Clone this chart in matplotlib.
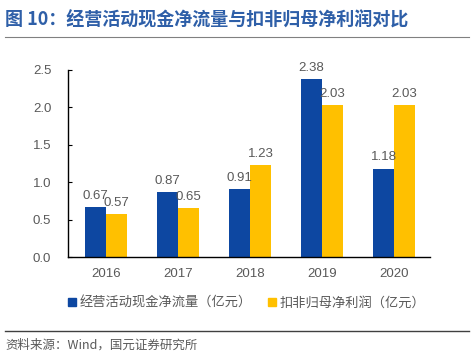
import matplotlib
matplotlib.use("Agg")
import matplotlib.pyplot as plt
import numpy as np
from matplotlib.lines import Line2D

plt.rcParams['font.family'] = ['Liberation Sans', 'Noto Sans CJK SC', 'DejaVu Sans']

years = ["2016", "2017", "2018", "2019", "2020"]
cash_flow = [0.67, 0.87, 0.91, 2.38, 1.18]
net_profit = [0.57, 0.65, 1.23, 2.03, 2.03]
series_names = ["经营活动现金净流量（亿元）", "扣非归母净利润（亿元）"]
title = "图 10：经营活动现金净流量与扣非归母净利润对比"
source = "资料来源：Wind，国元证券研究所"

blue = "#0D47A1"
yellow = "#FFC000"
gray = "#595959"

fig = plt.figure(figsize=(4.74, 3.63), dpi=100)
ax = fig.add_axes([68/474, 1-257/363, (430-68)/474, (257-70)/363])

x = np.arange(len(years))
w = 0.29
b1 = ax.bar(x - w/2, cash_flow, w, color=blue)
b2 = ax.bar(x + w/2, net_profit, w, color=yellow)
for bars, vals in ((b1, cash_flow), (b2, net_profit)):
    for r, v in zip(bars, vals):
        ax.text(r.get_x() + r.get_width()/2, v + 0.07, f"{v:.2f}", ha='center', va='bottom',
                fontsize=9.5, color=gray)

ax.set_xlim(-0.53, 4.5)
ax.set_ylim(0, 2.5)
ax.set_yticks(np.arange(0, 2.51, 0.5))
ax.set_yticklabels([f"{t:.1f}" for t in np.arange(0, 2.51, 0.5)])
ax.set_xticks(x)
ax.set_xticklabels(years)
ax.tick_params(axis='y', direction='in', length=3, colors='black', labelcolor=gray, labelsize=9.5, pad=12)
ax.tick_params(axis='x', length=0, labelcolor=gray, labelsize=9.5, pad=8)
for s in ['top', 'right']:
    ax.spines[s].set_visible(False)
for s in ['left', 'bottom']:
    ax.spines[s].set_color('black')
    ax.spines[s].set_linewidth(1.0)

# title
fig.text(5/474, 1-20/363, title, fontsize=13, fontweight='bold', color="#2E5FA8",
         va='center', ha='left', family=['Noto Sans CJK SC', 'DejaVu Sans'])
fig.add_artist(Line2D([5/474, 469/474], [1-37/363, 1-37/363], color='#808080', lw=0.8))
fig.add_artist(Line2D([5/474, 469/474], [1-331/363, 1-331/363], color='#404040', lw=1.0))
fig.text(5/474, 1-345/363, source, fontsize=9, color=gray, va='center', ha='left',
         family=['Noto Sans CJK SC', 'DejaVu Sans'])

# legend
handles = [plt.Rectangle((0, 0), 1, 1, color=blue), plt.Rectangle((0, 0), 1, 1, color=yellow)]
leg = fig.legend(handles, series_names, loc='center', bbox_to_anchor=(0.52, 1-303/363), ncol=2,
                 frameon=False, handlelength=0.6, handleheight=0.6, handletextpad=0.3,
                 columnspacing=1.2, prop={'family': ['Noto Sans CJK SC', 'DejaVu Sans'], 'size': 9.5})
for t in leg.get_texts():
    t.set_color(gray)

fig.savefig("out.png", dpi=100)
